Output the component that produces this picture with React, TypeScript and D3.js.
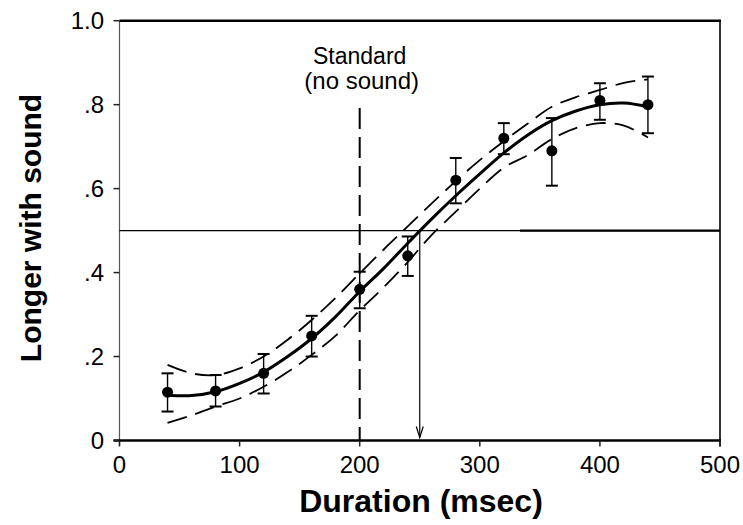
import React, { useEffect, useRef } from 'react';
import * as d3 from 'd3';

// observed proportions
const durations = [40, 80, 120, 160, 200, 240, 280, 320, 360, 400, 440];
const means = [0.115, 0.118, 0.16, 0.249, 0.36, 0.44, 0.62, 0.72, 0.69, 0.81, 0.8];
const errLow = [0.069, 0.081, 0.112, 0.2, 0.315, 0.392, 0.565, 0.682, 0.607, 0.764, 0.732];
const errHigh = [0.16, 0.156, 0.206, 0.297, 0.402, 0.486, 0.673, 0.756, 0.768, 0.851, 0.867];

// fitted curve and confidence band
const fitX = [40, 60, 80, 100, 120, 140, 160, 180, 200, 220, 240, 260, 280, 300, 320, 340, 360, 380, 400, 420, 440];
const fitY = [0.108, 0.107, 0.116, 0.136, 0.163, 0.2, 0.243, 0.295, 0.355, 0.41, 0.47, 0.528, 0.583, 0.635, 0.685, 0.728, 0.762, 0.785, 0.8, 0.804, 0.795];
const bandHigh = [0.18, 0.16, 0.156, 0.172, 0.2, 0.24, 0.287, 0.34, 0.398, 0.455, 0.51, 0.565, 0.618, 0.668, 0.713, 0.755, 0.795, 0.818, 0.835, 0.852, 0.86];
const bandLow = [0.042, 0.06, 0.081, 0.1, 0.128, 0.163, 0.204, 0.25, 0.31, 0.365, 0.425, 0.49, 0.545, 0.6, 0.65, 0.68, 0.718, 0.744, 0.756, 0.75, 0.722];

const xTicks = [0, 100, 200, 300, 400, 500];
const yTicks = [0, 0.2, 0.4, 0.6, 0.8, 1.0];
const yTickLabels = ['0', '.2', '.4', '.6', '.8', '1.0'];

const standardMs = 200;
const pseMs = 250;
const chance = 0.5;

const App = () => {
  const ref = useRef(null);

  useEffect(() => {
    const svg = d3.select(ref.current);
    svg.selectAll('*').remove();

    const left = 119.5, right = 720, top = 20.7, bottom = 440.5;
    const x = d3.scaleLinear().domain([0, 500]).range([left, right]);
    const y = d3.scaleLinear().domain([0, 1]).range([bottom, top]);
    const font = 'Liberation Sans, Arial, sans-serif';

    // frame
    svg.append('line').attr('x1', left).attr('x2', left).attr('y1', top).attr('y2', bottom + 5)
      .attr('stroke', '#555').attr('stroke-width', 1.2);
    svg.append('line').attr('x1', right).attr('x2', right).attr('y1', top).attr('y2', bottom + 6)
      .attr('stroke', '#333').attr('stroke-width', 2);
    svg.append('line').attr('x1', left).attr('x2', right + 1).attr('y1', top).attr('y2', top)
      .attr('stroke', 'black').attr('stroke-width', 2.5);
    svg.append('line').attr('x1', left - 6).attr('x2', right + 1).attr('y1', bottom).attr('y2', bottom)
      .attr('stroke', 'black').attr('stroke-width', 2.5);

    // ticks
    svg.selectAll('.xt').data(xTicks).enter().append('line')
      .attr('x1', (d) => x(d)).attr('x2', (d) => x(d))
      .attr('y1', bottom).attr('y2', bottom + 6)
      .attr('stroke', '#222').attr('stroke-width', 1.5);
    svg.selectAll('.xl').data(xTicks).enter().append('text')
      .attr('x', (d) => x(d)).attr('y', 473)
      .attr('text-anchor', 'middle')
      .attr('font-family', font).attr('font-size', 24)
      .text((d) => d);

    svg.selectAll('.yt').data(yTicks).enter().append('line')
      .attr('x1', left - 6).attr('x2', left)
      .attr('y1', (d) => y(d)).attr('y2', (d) => y(d))
      .attr('stroke', '#222').attr('stroke-width', 1.5);
    svg.selectAll('.yl').data(yTicks).enter().append('text')
      .attr('x', 104).attr('y', (d) => y(d) + 8)
      .attr('text-anchor', 'end')
      .attr('font-family', font).attr('font-size', 24)
      .text((d, i) => yTickLabels[i]);

    // axis titles
    svg.append('text')
      .attr('x', 421).attr('y', 512)
      .attr('text-anchor', 'middle')
      .attr('font-family', font).attr('font-weight', 'bold').attr('font-size', 32)
      .text('Duration (msec)');
    svg.append('text')
      .attr('transform', 'translate(41,228) rotate(-90)')
      .attr('text-anchor', 'middle')
      .attr('font-family', font).attr('font-weight', 'bold').attr('font-size', 30)
      .text('Longer with sound');

    // 0.5 reference line (thicker on the right part, as in the print)
    svg.append('line').attr('x1', left).attr('x2', right).attr('y1', y(chance)).attr('y2', y(chance))
      .attr('stroke', 'black').attr('stroke-width', 1.2);
    svg.append('line').attr('x1', 520).attr('x2', right).attr('y1', y(chance)).attr('y2', y(chance))
      .attr('stroke', 'black').attr('stroke-width', 2.2);

    // standard marker
    svg.append('line').attr('x1', x(standardMs)).attr('x2', x(standardMs))
      .attr('y1', 108).attr('y2', bottom)
      .attr('stroke', 'black').attr('stroke-width', 2)
      .attr('stroke-dasharray', '21,8');
    svg.append('text')
      .attr('x', x(standardMs)).attr('y', 64)
      .attr('text-anchor', 'middle')
      .attr('font-family', font).attr('font-size', 23)
      .text('Standard');
    svg.append('text')
      .attr('x', x(standardMs) + 2).attr('y', 89)
      .attr('text-anchor', 'middle')
      .attr('font-family', font).attr('font-size', 24)
      .text('(no sound)');

    // PSE arrow
    const ax = x(pseMs);
    svg.append('line').attr('x1', ax).attr('x2', ax).attr('y1', y(chance)).attr('y2', bottom - 3)
      .attr('stroke', 'black').attr('stroke-width', 1.2);
    svg.append('path')
      .attr('d', `M${ax - 3.5},${bottom - 14} L${ax},${bottom - 3} L${ax + 3.5},${bottom - 14}`)
      .attr('fill', 'none').attr('stroke', 'black').attr('stroke-width', 1.2);

    // confidence band
    const bandLine = d3.line()
      .x((d) => x(d[0]))
      .y((d) => y(d[1]))
      .curve(d3.curveCatmullRom);
    [bandHigh, bandLow].forEach((band) => {
      svg.append('path')
        .attr('d', bandLine(fitX.map((d, i) => [d, band[i]])))
        .attr('fill', 'none').attr('stroke', 'black').attr('stroke-width', 1.8)
        .attr('stroke-dasharray', '20,9');
    });

    // fitted curve
    svg.append('path')
      .attr('d', bandLine(fitX.map((d, i) => [d, fitY[i]])))
      .attr('fill', 'none').attr('stroke', 'black').attr('stroke-width', 3);

    // error bars
    const bars = svg.selectAll('.eb').data(durations).enter().append('g');
    bars.append('line')
      .attr('x1', (d) => x(d)).attr('x2', (d) => x(d))
      .attr('y1', (d, i) => y(errLow[i])).attr('y2', (d, i) => y(errHigh[i]))
      .attr('stroke', 'black').attr('stroke-width', 1.4);
    [errLow, errHigh].forEach((arr) => {
      bars.append('line')
        .attr('x1', (d) => x(d) - 6).attr('x2', (d) => x(d) + 6)
        .attr('y1', (d, i) => y(arr[i])).attr('y2', (d, i) => y(arr[i]))
        .attr('stroke', 'black').attr('stroke-width', 2);
    });

    svg.selectAll('.dot').data(durations).enter().append('circle')
      .attr('cx', (d) => x(d))
      .attr('cy', (d, i) => y(means[i]))
      .attr('r', 5.5)
      .attr('fill', 'black');
  }, []);

  return (
    <svg ref={ref} width={743} height={525}
      style={{ position: 'absolute', left: 0, top: 0, background: 'white' }} />
  );
};

export default App;
